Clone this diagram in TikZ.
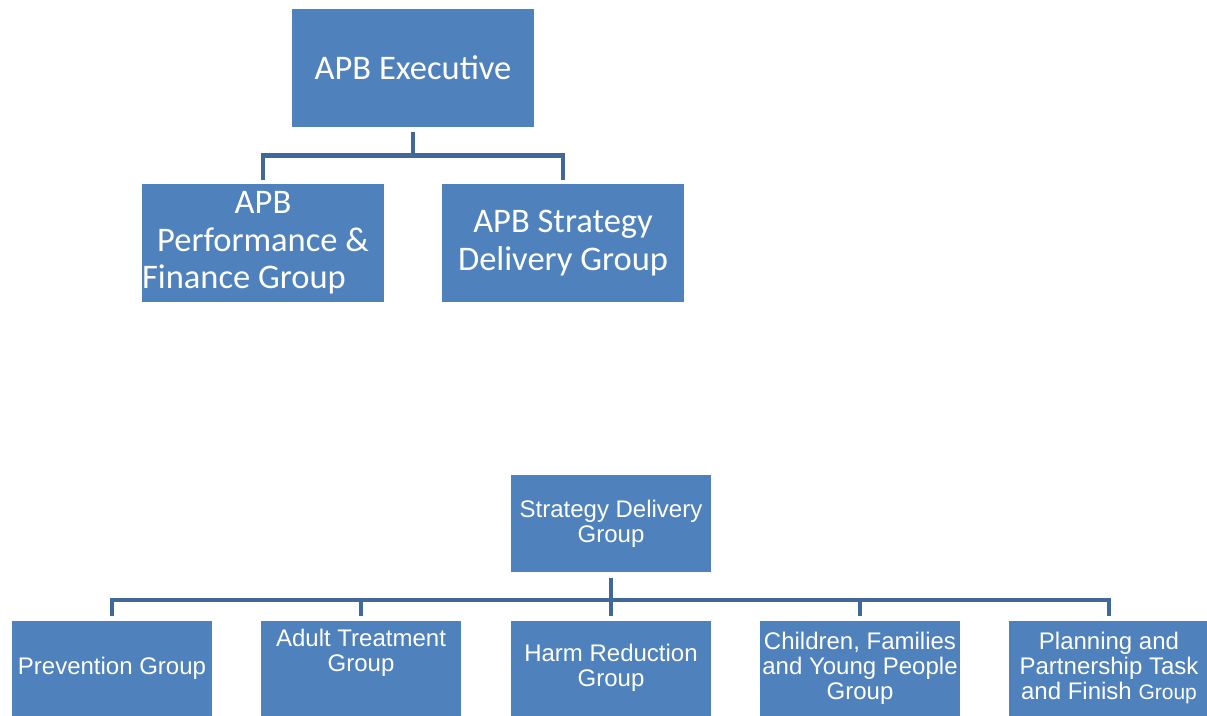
\documentclass[tikz,border=0pt]{standalone}
\usepackage{fontspec}
\setmainfont{Liberation Sans}
\newfontfamily\carlito{Carlito}
\usetikzlibrary{calc}
\definecolor{boxblue}{HTML}{4F81BD}
\definecolor{linkblue}{HTML}{41689A}
\begin{document}
\begin{tikzpicture}[x=1pt,y=1pt,
  box/.style={fill=boxblue, draw=none, inner sep=0pt, text=white, align=center},
  topbox/.style={box, minimum width=242pt, minimum height=118pt, font=\carlito\fontsize{34.5}{37.5}\selectfont},
  botbox/.style={box, minimum width=200pt, minimum height=95pt, font=\fontsize{24}{25}\selectfont},
  btext/.style={text=white, align=center, inner sep=0pt, font=\fontsize{24}{25}\selectfont},
  link/.style={draw=linkblue, line width=4.5pt}]
\useasboundingbox (0,0) rectangle (1207,-715);
% top chart
\node[topbox] (exec) at (413,-67.5) {APB Executive};
\node[topbox] (perf) at (263,-243) {APB\\Performance \&\\\hspace*{-38pt}Finance Group};
\node[topbox] (strat) at (563,-243) {APB Strategy\\Delivery Group};
\coordinate (tj) at ($(exec.south)+(0,-29)$);
\draw[link] ([yshift=-5pt]exec.south) -- (tj);
\draw[link] ([yshift=4pt]perf.north) |- (tj) -| ([yshift=4pt]strat.north);
% bottom chart
\node[botbox, minimum height=97pt] (sdg) at (611,-523.5) {Strategy Delivery\\Group};
\node[botbox] (prev) at (112,-668) {Prevention Group};
\node[botbox] (adult) at (361,-668) {};
\node[btext] (adulttext) at (361,-653) {Adult Treatment\\Group};
\node[botbox] (harm) at (611,-668) {Harm Reduction\\Group};
\node[botbox] (child) at (860,-668) {Children, Families\\and Young People\\Group};
\node[botbox] (plan) at (1109,-668) {Planning and\\Partnership Task\\and Finish {\fontsize{21}{25}\selectfont Group}};
\coordinate (bj) at ($(sdg.south)+(0,-28)$);
\draw[link, line width=4pt] ([yshift=-6pt]sdg.south) -- ([yshift=4pt]harm.north);
\draw[link, line width=4pt] ([yshift=4pt]prev.north) |- (bj) -| ([yshift=4pt]plan.north);
\draw[link, line width=4pt] ([yshift=4pt]adult.north) -- (adult.north |- bj);
\draw[link, line width=4pt] ([yshift=4pt]child.north) -- (child.north |- bj);
\end{tikzpicture}
\end{document}
